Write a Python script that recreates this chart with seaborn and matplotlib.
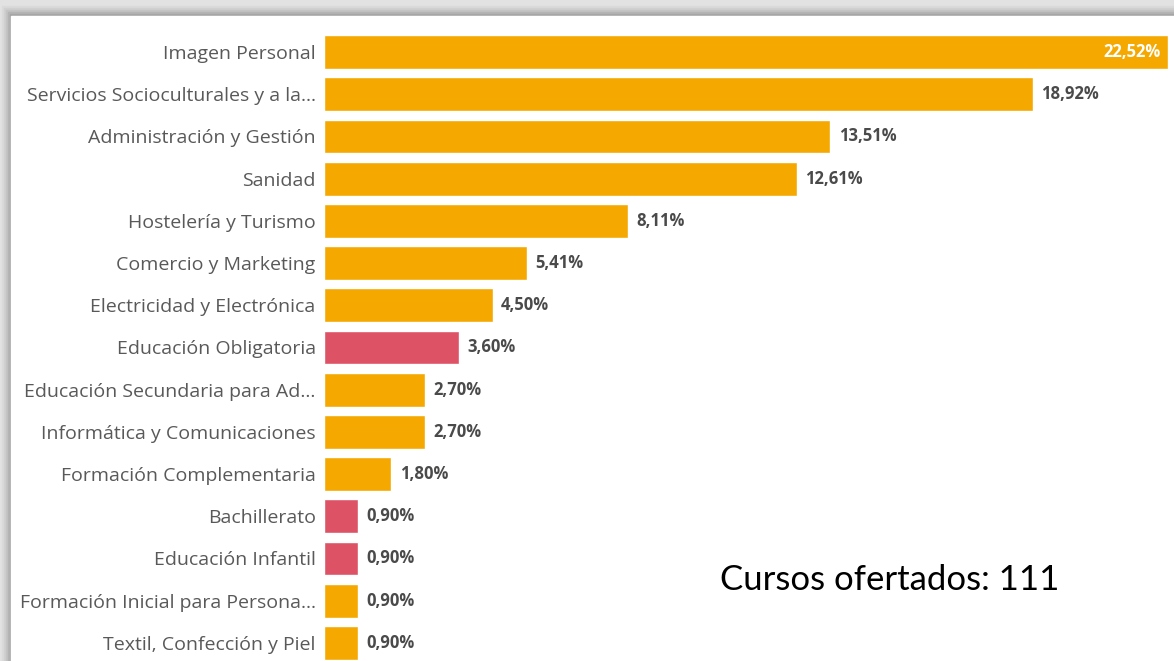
import numpy as np
import matplotlib.pyplot as plt
import seaborn as sns
import pandas as pd
from matplotlib.patches import Rectangle

categories = ['Imagen Personal', 'Servicios Socioculturales y a la...', 'Administración y Gestión',
              'Sanidad', 'Hostelería y Turismo', 'Comercio y Marketing', 'Electricidad y Electrónica',
              'Educación Obligatoria', 'Educación Secundaria para Ad...', 'Informática y Comunicaciones',
              'Formación Complementaria', 'Bachillerato', 'Educación Infantil',
              'Formación Inicial para Persona...', 'Textil, Confección y Piel']
values = [22.52, 18.92, 13.51, 12.61, 8.11, 5.41, 4.50, 3.60, 2.70, 2.70, 1.80, 0.90, 0.90, 0.90, 0.90]
groups = ['fp', 'fp', 'fp', 'fp', 'fp', 'fp', 'fp', 'reg', 'fp', 'fp', 'fp', 'reg', 'reg', 'fp', 'fp']
total = 111

palette = {'fp': '#F5A800', 'reg': '#DE5266'}

df = pd.DataFrame({'cat': categories, 'val': values, 'grp': groups})

sns.set_style('white')
plt.rcParams['font.family'] = ['Open Sans', 'DejaVu Sans']

W, H = 1174, 661
fig = plt.figure(figsize=(W / 100, H / 100), dpi=100)

# frame / shadow
fig.patches.append(Rectangle((0, 0), 1, 1, transform=fig.transFigure, color='#e2e2e2', zorder=-3))
for i, c in enumerate(['#dadada', '#d0d0d0', '#c4c4c4', '#b4b4b4', '#a6a6a6']):
    fig.patches.append(Rectangle((2 * (i + 1) / W, 0), 1, 1 - (2 * (i + 1) + 4) / H,
                                 transform=fig.transFigure, color=c, zorder=-2))
fig.patches.append(Rectangle((11 / W, 0), 1, 1 - 16 / H, transform=fig.transFigure,
                             color='white', zorder=-1))

left, right = 324 / W, 1168 / W
top = 1 - 31 / H
ax = fig.add_axes([left, 0, right - left, top])
ax.patch.set_alpha(0)

sns.barplot(data=df, x='val', y='cat', hue='grp', palette=palette, dodge=False,
            width=0.8, legend=False, ax=ax, saturation=1)

ax.set_xlim(0, max(values))
ax.set_ylim(14.43, -0.5)
ax.set_xlabel('')
ax.set_ylabel('')
ax.set_xticks([])
for s in ax.spines.values():
    s.set_visible(False)
ax.tick_params(axis='y', length=0, pad=6, labelsize=14, labelcolor='#595959')

for i, v in enumerate(values):
    txt = f'{v:.2f}'.replace('.', ',') + '%'
    if v == max(values):
        ax.annotate(txt, (v, i), xytext=(-5, 0), textcoords='offset points', ha='right',
                    va='center', color='white', fontsize=12, fontweight='bold')
    else:
        ax.annotate(txt, (v, i), xytext=(6, 0), textcoords='offset points', ha='left',
                    va='center', color='#4a4a4a', fontsize=12, fontweight='bold')

fig.text(720 / W, 1 - 580 / H, f'Cursos ofertados: {total}', fontsize=25, color='black',
         family=['Lato', 'DejaVu Sans'], va='center', ha='left')

fig.savefig('out.png', dpi=100)
